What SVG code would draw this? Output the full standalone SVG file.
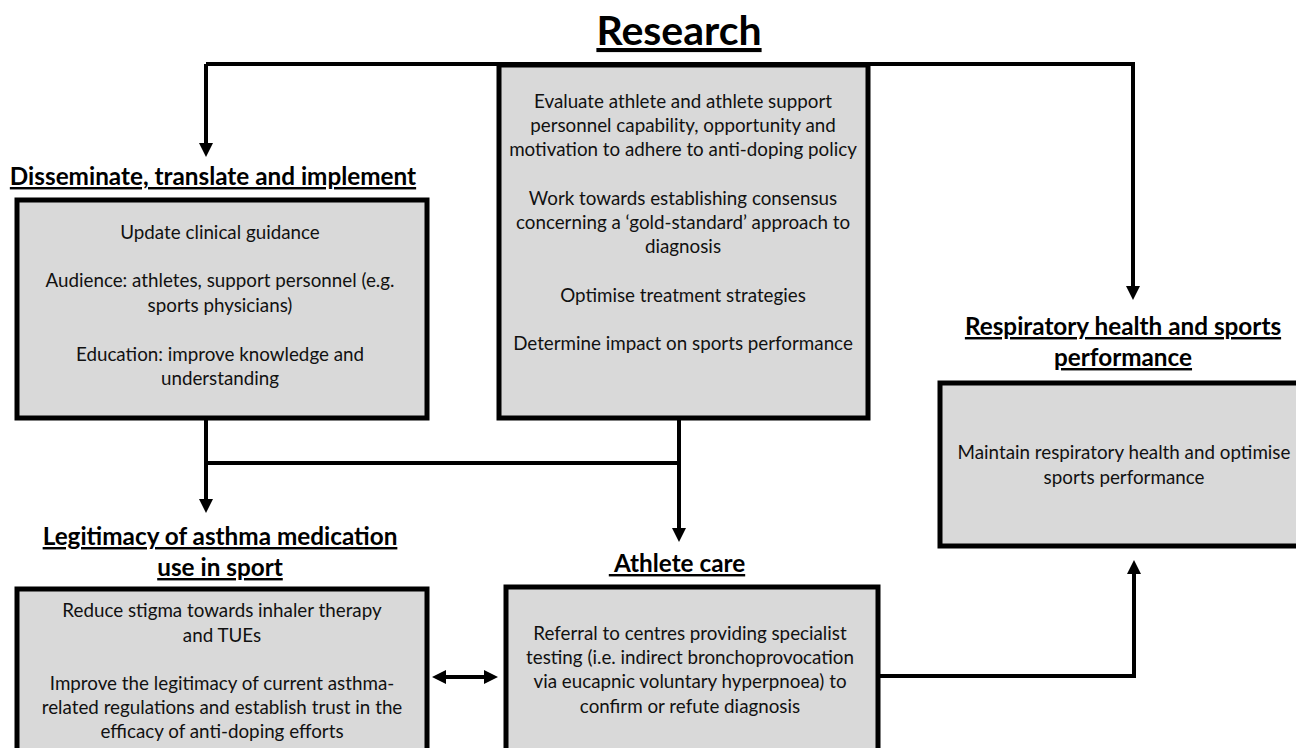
<svg xmlns="http://www.w3.org/2000/svg" width="1296" height="748" viewBox="0 0 1296 748">
<style>
.box{fill:#d9d9d9;stroke:#000;stroke-width:5}
.t{font-family:Lato,"Open Sans",sans-serif;font-size:18.8px;fill:#111;text-anchor:middle}
.h{font-family:Lato,"Open Sans",sans-serif;font-size:24.3px;font-weight:bold;fill:#000;text-anchor:middle;text-decoration:underline}
.title{font-family:Lato,"Open Sans",sans-serif;font-size:41px;font-weight:bold;fill:#000;text-anchor:middle;text-decoration:underline}
.c{fill:none;stroke:#000;stroke-width:4}
</style>
<defs>
<marker id="ah" markerUnits="userSpaceOnUse" markerWidth="16" markerHeight="16" refX="4" refY="8" orient="auto-start-reverse" viewBox="0 0 16 16">
<path d="M0,1 L14,8 L0,15 Z" fill="#000"/>
</marker>
</defs>
<g id="connectors">
<path class="c" d="M206,64 H1133 V290" marker-end="url(#ah)"/>
<path class="c" d="M206,64 V147" marker-end="url(#ah)"/>
<path class="c" d="M206,420 V503" marker-end="url(#ah)"/>
<path class="c" d="M206,463 H679"/>
<path class="c" d="M679,420 V532" marker-end="url(#ah)"/>
<path class="c" d="M442,677 H488" marker-start="url(#ah)" marker-end="url(#ah)"/>
<path class="c" d="M879,676 H1134 V570" marker-end="url(#ah)"/>
</g>
<g id="title"><text class="title" x="679" y="45">Research</text></g>
<g id="research">
<rect class="box" x="499" y="65" width="369" height="353"/>
<text class="t" x="683"><tspan x="683" y="108">Evaluate athlete and athlete support</tspan><tspan x="683" y="132">personnel capability, opportunity and</tspan><tspan x="683" y="156">motivation to adhere to anti-doping policy</tspan><tspan x="683" y="205">Work towards establishing consensus</tspan><tspan x="683" y="229">concerning a ‘gold-standard’ approach to</tspan><tspan x="683" y="253">diagnosis</tspan><tspan x="683" y="302">Optimise treatment strategies</tspan><tspan x="683" y="350">Determine impact on sports performance</tspan></text>
</g>
<g id="disseminate">
<text class="h" x="213" y="185">Disseminate, translate and implement</text>
<rect class="box" x="17" y="200" width="410" height="218"/>
<text class="t"><tspan x="220" y="239">Update clinical guidance</tspan><tspan x="220" y="287">Audience: athletes, support personnel (e.g.</tspan><tspan x="220" y="312">sports physicians)</tspan><tspan x="220" y="361">Education: improve knowledge and</tspan><tspan x="220" y="385">understanding</tspan></text>
</g>
<g id="legitimacy">
<text class="h"><tspan x="220" y="545">Legitimacy of asthma medication</tspan><tspan x="220" y="576">use in sport</tspan></text>
<rect class="box" x="17" y="589" width="410" height="175"/>
<text class="t"><tspan x="222" y="617">Reduce stigma towards inhaler therapy</tspan><tspan x="222" y="642">and TUEs</tspan><tspan x="222" y="690">Improve the legitimacy of current asthma-</tspan><tspan x="222" y="714">related regulations and establish trust in the</tspan><tspan x="222" y="738">efficacy of anti-doping efforts</tspan></text>
</g>
<g id="athlete-care">
<text class="h" x="677" y="572" xml:space="preserve"> Athlete care</text>
<rect class="box" x="506" y="587" width="372" height="175"/>
<text class="t"><tspan x="690" y="640">Referral to centres providing specialist</tspan><tspan x="690" y="664">testing (i.e. indirect bronchoprovocation</tspan><tspan x="690" y="688">via eucapnic voluntary hyperpnoea) to</tspan><tspan x="690" y="713">confirm or refute diagnosis</tspan></text>
</g>
<g id="respiratory">
<text class="h"><tspan x="1123" y="335">Respiratory health and sports</tspan><tspan x="1123" y="366">performance</tspan></text>
<rect class="box" x="940" y="383" width="370" height="163"/>
<text class="t"><tspan x="1124" y="459">Maintain respiratory health and optimise</tspan><tspan x="1124" y="484">sports performance</tspan></text>
</g>
</svg>
